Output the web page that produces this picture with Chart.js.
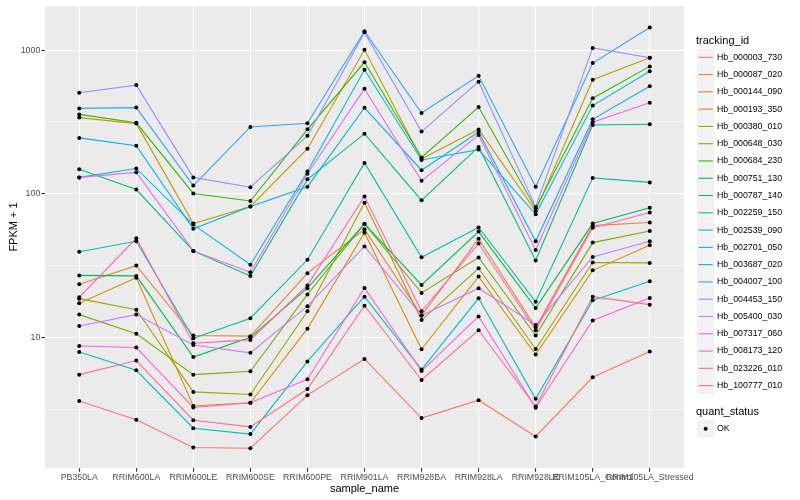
<!DOCTYPE html>
<html><head><meta charset="utf-8">
<script src="https://cdn.jsdelivr.net/npm/chart.js@4.4.1/dist/chart.umd.min.js"></script>
<style>html,body{margin:0;padding:0;background:#fff;}#wrap{width:800px;height:500px;}</style>
</head><body><div id="wrap"><canvas id="c" width="800" height="500"></canvas></div>
<script>
const categories = ["PB350LA","RRIM600LA","RRIM600LE","RRIM600SE","RRIM600PE","RRIM901LA","RRIM928BA","RRIM928LA","RRIM928LE","RRIM105LA_Control","RRIM105LA_Stressed"];
const trackingIds = ["Hb_000003_730","Hb_000087_020","Hb_000144_090","Hb_000193_350","Hb_000380_010","Hb_000648_030","Hb_000684_230","Hb_000751_130","Hb_000787_140","Hb_002259_150","Hb_002539_090","Hb_002701_050","Hb_003687_020","Hb_004007_100","Hb_004453_150","Hb_005400_030","Hb_007317_060","Hb_008173_120","Hb_023226_010","Hb_100777_010"];
const seriesColors = ["#F8766D","#EA8331","#D89000","#C09B00","#A3A500","#7CAE00","#39B600","#00BB4E","#00BF7D","#00C1A3","#00BFC4","#00BAE0","#00B0F6","#35A2FF","#9590FF","#C77CFF","#E76BF3","#FA62DB","#FF62BC","#FF6C91"];

const Hb_000003_730 = [3.6, 2.67, 1.71, 1.69, 3.96, 7.07, 2.74, 3.65, 2.04, 5.27, 7.96];
const Hb_000087_020 = [23.4, 31.6, 10.3, 10.2, 28, 56.5, 14.2, 48.7, 11.7, 60, 63];
const Hb_000144_090 = [17.3, 26, 3.33, 3.5, 11.5, 53.6, 8.26, 26.5, 7.6, 29.3, 43.8];
const Hb_000193_350 = [339, 308, 62, 81.6, 206, 1005, 175, 280, 76, 623, 885];
const Hb_000380_010 = [18.6, 15.6, 4.17, 4.0, 15.2, 86.6, 13.2, 30.3, 8.3, 33.2, 33];
const Hb_000648_030 = [14.4, 10.6, 5.5, 5.8, 19.9, 61.7, 20.4, 36, 10.3, 45.7, 55];
const Hb_000684_230 = [357, 312, 100.5, 89, 281, 823, 179, 402, 79, 463, 771];
const Hb_000751_130 = [27, 26.8, 7.3, 10.0, 22, 61.7, 23.2, 54.5, 16, 62, 80];
const Hb_000787_140 = [148, 107, 40, 26.7, 126, 262, 90, 212, 34.3, 301, 305];
const Hb_002259_150 = [39.5, 46.7, 9.85, 13.6, 34.7, 164, 36.1, 58.3, 17.7, 129, 120];
const Hb_002539_090 = [7.9, 5.9, 2.33, 2.12, 6.8, 19.2, 5.97, 18.7, 3.73, 18.1, 24.6];
const Hb_002701_050 = [130, 150, 61, 32, 143, 730, 172, 203, 72, 411, 714];
const Hb_003687_020 = [245, 216, 57, 81.6, 112, 397, 146, 269, 46.7, 330, 560];
const Hb_004007_100 = [393, 398, 114, 292, 310, 1355, 365, 664, 112, 813, 1438];
const Hb_004453_150 = [505, 571, 130, 111, 253, 1330, 271, 603, 81, 1037, 885];
const Hb_005400_030 = [12, 14.4, 8.85, 7.8, 16.5, 43, 14.2, 22, 12.2, 36.3, 46.7];
const Hb_007317_060 = [130, 141, 40, 28.4, 138, 538, 123, 257, 40.6, 315, 431];
const Hb_008173_120 = [8.7, 8.5, 3.25, 3.5, 5.1, 22.1, 5.84, 14, 3.23, 13.1, 18.8];
const Hb_023226_010 = [19, 49, 9.1, 9.6, 23, 95.7, 15.2, 45, 11.2, 58, 74];
const Hb_100777_010 = [5.5, 6.9, 2.65, 2.38, 4.37, 16.6, 5.05, 11.2, 3.3, 19.2, 16.9];

const seriesValues = [Hb_000003_730,Hb_000087_020,Hb_000144_090,Hb_000193_350,Hb_000380_010,Hb_000648_030,Hb_000684_230,Hb_000751_130,Hb_000787_140,Hb_002259_150,Hb_002539_090,Hb_002701_050,Hb_003687_020,Hb_004007_100,Hb_004453_150,Hb_005400_030,Hb_007317_060,Hb_008173_120,Hb_023226_010,Hb_100777_010];

const yTickValues = [Math.sqrt(10), 10, Math.sqrt(10)*10, 100, Math.sqrt(10)*100, 1000];
const yTickLabels = ["", "10", "", "100", "", "1000"];
const quantStatus = ["OK"];

const FONT = "'Liberation Sans', Arial, Helvetica, sans-serif";

const lineSets = seriesValues.map((vals, s) => ({
  label: trackingIds[s],
  data: vals.map((v, i) => ({x: i, y: v})),
  borderColor: seriesColors[s],
  backgroundColor: seriesColors[s],
  borderWidth: 1.1,
  pointRadius: 0,
  pointHoverRadius: 0,
  tension: 0,
  fill: false,
  order: 100 - s
}));
const pointSet = {
  label: "quant_status",
  data: seriesValues.flatMap(vals => vals.map((v, i) => ({x: i, y: v}))),
  showLine: false,
  pointRadius: 2,
  pointBackgroundColor: "#000",
  pointBorderWidth: 0,
  borderWidth: 0,
  order: 0
};

const panelBg = {
  id: "panelBg",
  beforeDraw(chart) {
    const {ctx, chartArea: a} = chart;
    ctx.save();
    ctx.fillStyle = "#EBEBEB";
    ctx.fillRect(a.left, a.top, a.right - a.left, a.bottom - a.top);
    ctx.restore();
  }
};

const decor = {
  id: "decor",
  afterDraw(chart) {
    const {ctx, chartArea: a} = chart;
    ctx.save();
    ctx.fillStyle = "#000";
    ctx.font = "11px " + FONT;
    ctx.textAlign = "center";
    ctx.textBaseline = "middle";
    ctx.fillText("sample_name", (a.left + a.right) / 2, 489);
    ctx.save();
    ctx.translate(14, 227);
    ctx.rotate(-Math.PI / 2);
    ctx.fillText("FPKM + 1", 0, 0);
    ctx.restore();
    const kx = 697, kw = 17.3, step = 17.28, y0 = 57.3;
    ctx.textAlign = "left";
    ctx.font = "11px " + FONT;
    ctx.fillText("tracking_id", 696, 40.5);
    ctx.font = "8.8px " + FONT;
    trackingIds.forEach((id, i) => {
      const cy = y0 + i * step;
      ctx.fillStyle = "#F2F2F2";
      ctx.fillRect(kx, cy - kw / 2, kw, kw);
      ctx.strokeStyle = seriesColors[i];
      ctx.lineWidth = 1.1;
      ctx.beginPath();
      ctx.moveTo(kx + 1.5, cy);
      ctx.lineTo(kx + kw - 1.5, cy);
      ctx.stroke();
      ctx.fillStyle = "#000";
      ctx.fillText(id, 717, cy);
    });
    ctx.font = "11px " + FONT;
    ctx.fillText("quant_status", 696, 411.5);
    ctx.font = "8.8px " + FONT;
    quantStatus.forEach((q, i) => {
      const cy = 428.8 + i * step;
      ctx.fillStyle = "#F2F2F2";
      ctx.fillRect(kx, cy - kw / 2, kw, kw);
      ctx.fillStyle = "#000";
      ctx.beginPath();
      ctx.arc(kx + kw / 2, cy, 2, 0, Math.PI * 2);
      ctx.fill();
      ctx.fillText(q, 717, cy);
    });
    ctx.restore();
  }
};

new Chart(document.getElementById("c"), {
  type: "line",
  data: { datasets: [pointSet, ...lineSets] },
  options: {
    responsive: false,
    animation: false,
    devicePixelRatio: 1,
    layout: { padding: { left: 0, right: 116, top: 5, bottom: 0 } },
    plugins: { legend: { display: false }, tooltip: { enabled: false } },
    events: [],
    scales: {
      x: {
        type: "linear",
        min: -0.6, max: 10.6,
        afterBuildTicks: s => { s.ticks = categories.map((c, i) => ({ value: i })); },
        afterFit: s => { s.height = 32; },
        ticks: {
          autoSkip: false, maxRotation: 0, minRotation: 0,
          callback: v => categories[v],
          color: "#4D4D4D", font: { family: FONT, size: 8.8 }, padding: 1
        },
        grid: { color: "#FFFFFF", lineWidth: 1.07, tickColor: "#333333", tickLength: 3.7, tickWidth: 1.07 },
        border: { display: false }
      },
      y: {
        type: "logarithmic",
        min: 1.231, max: 2021,
        afterBuildTicks: s => { s.ticks = yTickValues.map(v => ({ value: v })); },
        afterFit: s => { s.width = 45; },
        ticks: {
          autoSkip: false,
          callback: (v, i) => yTickLabels[i],
          color: "#4D4D4D", font: { family: FONT, size: 8.8 }, padding: 1
        },
        grid: {
          color: "#FFFFFF",
          lineWidth: c => (c.index % 2 === 1 ? 1.07 : 0.53),
          tickColor: c => (c.index % 2 === 1 ? "#333333" : "rgba(0,0,0,0)"),
          tickLength: 3.7, tickWidth: 1.07
        },
        border: { display: false }
      }
    }
  },
  plugins: [panelBg, decor]
});
</script>
</body></html>
